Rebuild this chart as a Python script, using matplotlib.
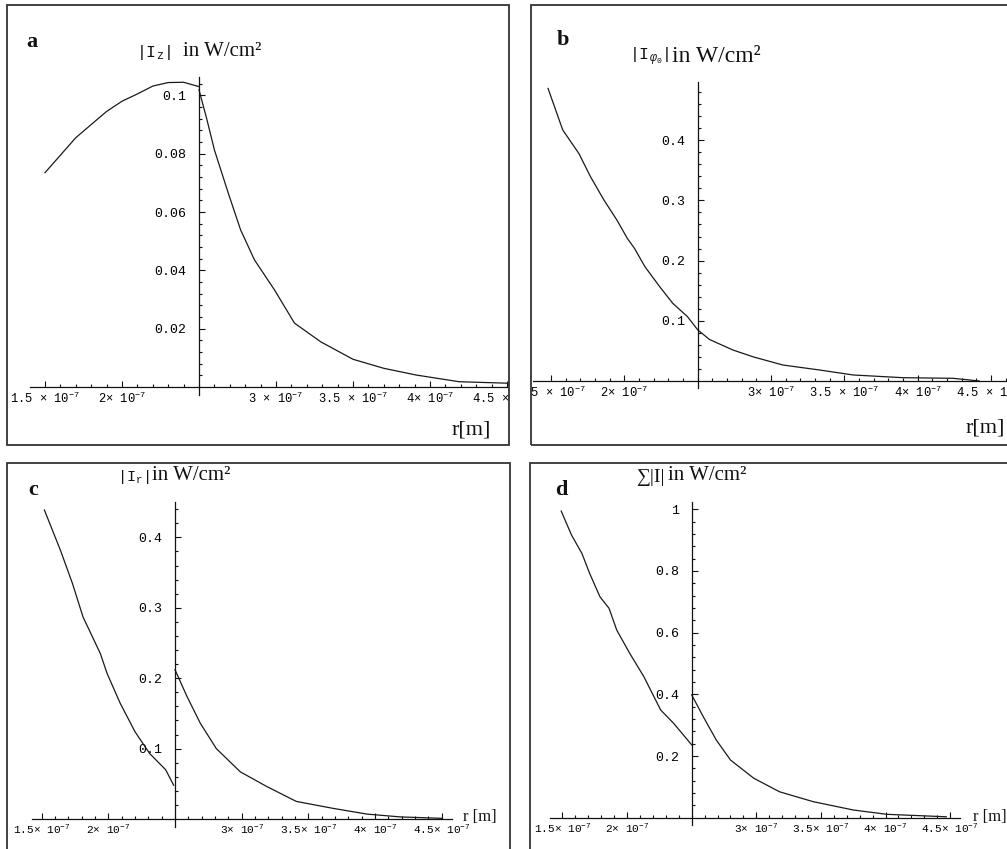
import numpy as np
import matplotlib.pyplot as plt
from matplotlib.ticker import FixedLocator, FixedFormatter
from matplotlib.patches import Rectangle

plt.rcParams['font.family'] = ['Liberation Mono', 'DejaVu Sans Mono']
plt.rcParams['mathtext.fontset'] = 'custom'
plt.rcParams['mathtext.rm'] = 'Liberation Mono'
plt.rcParams['mathtext.it'] = 'Liberation Mono:italic'

# r in units of 1e-7 m, intensities in W/cm^2
# panel a : |I_z|
ra_left = [1.5, 1.6, 1.7, 1.8, 1.9, 2.0, 2.1, 2.2, 2.3, 2.4, 2.5]
Ia_left = [0.0735, 0.0795, 0.0855, 0.090, 0.0945, 0.098, 0.1005, 0.1032, 0.1044, 0.1045, 0.1030]
ra_right = [2.5, 2.55, 2.6, 2.69, 2.77, 2.86, 2.99, 3.12, 3.29, 3.5, 3.7, 3.91, 4.19, 4.5]
Ia_right = [0.1019, 0.092, 0.0813, 0.0665, 0.0539, 0.0436, 0.0333, 0.0219, 0.0155, 0.0095, 0.0064, 0.0041, 0.0018, 0.0013]

# panel b : |I_phi0|
rb = [1.48, 1.58, 1.69, 1.77, 1.86, 1.95, 2.02, 2.07, 2.14, 2.24, 2.33, 2.43, 2.5, 2.58, 2.74, 2.88, 3.08, 3.33, 3.56, 3.9, 4.24, 4.42]
Ib = [0.486, 0.417, 0.378, 0.339, 0.301, 0.267, 0.237, 0.220, 0.190, 0.157, 0.129, 0.107, 0.085, 0.069, 0.0515, 0.040, 0.0266, 0.0183, 0.010, 0.0055, 0.0045, 0.0]

# panel c : |I_r|
rc_left = [1.52, 1.64, 1.73, 1.81, 1.94, 1.99, 2.09, 2.2, 2.31, 2.43, 2.49]
Ic_left = [0.439, 0.382, 0.335, 0.287, 0.235, 0.207, 0.164, 0.124, 0.093, 0.070, 0.048]
rc_right = [2.5, 2.59, 2.69, 2.81, 2.99, 3.19, 3.41, 3.69, 3.94, 4.19, 4.5]
Ic_right = [0.212, 0.174, 0.136, 0.100, 0.067, 0.046, 0.025, 0.015, 0.007, 0.003, 0.001]

# panel d : sum |I|
rd_left = [1.49, 1.57, 1.65, 1.71, 1.79, 1.86, 1.92, 2.02, 2.13, 2.26, 2.36, 2.5]
Id_left = [0.994, 0.916, 0.857, 0.792, 0.716, 0.679, 0.608, 0.533, 0.457, 0.349, 0.306, 0.236]
rd_right = [2.5, 2.59, 2.69, 2.8, 2.98, 3.18, 3.44, 3.75, 4.01, 4.47]
Id_right = [0.398, 0.327, 0.252, 0.187, 0.128, 0.084, 0.052, 0.025, 0.011, 0.003]

x_major = [1.5, 2.0, 3.0, 3.5, 4.0, 4.5]
xlab_a = ['1.5 × 10', '2× 10', '3 × 10', '3.5 × 10', '4× 10', '4.5 × 10']
xlab_b = ['1.5 × 10', '2× 10', '3× 10', '3.5 × 10', '4× 10', '4.5 × 10']
xlab_cd = ['1.5× 10', '2× 10', '3× 10', '3.5× 10', '4× 10', '4.5× 10']
ytick_a = [0.02, 0.04, 0.06, 0.08, 0.1]
ylab_a = ['0.02', '0.04', '0.06', '0.08', '0.1']
ytick_bc = [0.1, 0.2, 0.3, 0.4]
ylab_bc = ['0.1', '0.2', '0.3', '0.4']
ytick_d = [0.2, 0.4, 0.6, 0.8, 1.0]
ylab_d = ['0.2', '0.4', '0.6', '0.8', '1']

W, H = 1007, 849
fig = plt.figure(figsize=(W / 100, H / 100), dpi=100)
sup = r'$\mathregular{^{-7}}$'


def fx(x):
    return x / W


def fy(y):
    return 1 - y / H


def panel(box, xlim, ylim, xspan, yspan, yt, yl, xl, xsize, ystep, xmax_minor):
    x0, y0, x1, y1 = box
    ax = fig.add_axes([fx(x0), fy(y1), (x1 - x0) / W, (y1 - y0) / H])
    ax.set_xlim(xlim[0] * 1e-7, xlim[1] * 1e-7)
    ax.set_ylim(*ylim)
    ax.patch.set_alpha(0)
    for s in ['top', 'right']:
        ax.spines[s].set_visible(False)
    ax.spines['left'].set_position(('data', 2.5e-7))
    ax.spines['bottom'].set_position(('data', 0))
    ax.spines['left'].set_bounds(*yspan)
    ax.spines['bottom'].set_bounds(xspan[0] * 1e-7, xspan[1] * 1e-7)
    for s in ['left', 'bottom']:
        ax.spines[s].set_linewidth(0.9)
        ax.spines[s].set_color('#111111')

    ax.xaxis.set_major_locator(FixedLocator([v * 1e-7 for v in x_major]))
    ax.xaxis.set_major_formatter(FixedFormatter([s + sup for s in xl]))
    ax.xaxis.set_minor_locator(FixedLocator(np.arange(15, xmax_minor + 1) * 1e-8))
    ax.yaxis.set_major_locator(FixedLocator(yt))
    ax.yaxis.set_major_formatter(FixedFormatter(yl))
    ymin_t = np.arange(1, 60) * ystep
    ax.yaxis.set_minor_locator(FixedLocator(ymin_t[ymin_t <= yspan[1]]))

    ax.tick_params(which='both', direction='in', color='#111111', width=0.8)
    ax.tick_params(which='major', length=4)
    ax.tick_params(which='minor', length=2.2)
    ax.tick_params(axis='x', labelsize=xsize, pad=3)
    ax.tick_params(axis='y', labelsize=9.5, pad=9)

    for t in ax.xaxis.get_major_ticks() + ax.yaxis.get_major_ticks():
        t.label1.set_clip_on(True)
        t.label1.set_clip_box(ax.bbox)

    ax.add_patch(Rectangle((0, 0), 1, 1, transform=ax.transAxes, fill=False,
                           lw=1.3, ec='#333333', clip_on=False))
    return ax


line_kw = dict(color='#1a1a1a', lw=0.9)
serif = ['Liberation Serif', 'DejaVu Serif']
ink = '#111111'

# a
ax = panel((7, 5, 509, 445), (1.2532, 4.513), (-0.0199, 0.1310), (1.403, 4.5),
           (-0.0027, 0.1063), ytick_a, ylab_a, xlab_a, 8.7, 0.004, 45)
ax.plot(np.array(ra_left) * 1e-7, Ia_left, **line_kw)
ax.plot(np.array(ra_right) * 1e-7, Ia_right, **line_kw)

# b
ax = panel((531, 5, 1030, 445), (1.3637, 4.765), (-0.1063, 0.6246), (1.379, 4.765),
           (-0.012, 0.497), ytick_bc, ylab_bc, xlab_b, 8.7, 0.02, 47)
ax.plot(np.array(rb) * 1e-7, Ib, **line_kw)

# c
ax = panel((7, 463, 510, 860), (1.2397, 5.013), (-0.0582, 0.5057), (1.43, 4.575),
           (-0.011, 0.4507), ytick_bc, ylab_bc, xlab_cd, 8, 0.02, 45)
ax.plot(np.array(rc_left) * 1e-7, Ic_left, **line_kw)
ax.plot(np.array(rc_right) * 1e-7, Ic_right, **line_kw)

# d
ax = panel((530, 463, 1030, 860), (1.2485, 5.118), (-0.1371, 1.1498), (1.403, 4.577),
           (-0.024, 1.024), ytick_d, ylab_d, xlab_cd, 8, 0.04, 45)
ax.plot(np.array(rd_left) * 1e-7, Id_left, **line_kw)
ax.plot(np.array(rd_right) * 1e-7, Id_right, **line_kw)

# panel letters
for letter, x, y in [('a', 32, 42), ('b', 563, 40), ('c', 33, 490), ('d', 561, 490)]:
    fig.text(fx(x), fy(y), letter, family=serif, fontsize=16, fontweight='bold',
             ha='center', va='center', color=ink)

# quantity labels
fig.text(fx(171), fy(53), r'|I$_\mathregular{z}$|', fontsize=12, ha='right', va='center', color=ink)
fig.text(fx(183), fy(52), 'in W/cm²', family=serif, fontsize=15, va='center', color=ink)
fig.text(fx(669), fy(57), r'|I$_{\varphi_0}$|', fontsize=12, ha='right', va='center', color=ink)
fig.text(fx(672), fy(56), 'in W/cm²', family=serif, fontsize=17, va='center', color=ink)
fig.text(fx(149), fy(477), r'|I$_\mathregular{r}$|', fontsize=11, ha='right', va='center', color=ink)
fig.text(fx(152), fy(476), 'in W/cm²', family=serif, fontsize=15, va='center', color=ink)
fig.text(fx(665), fy(477), '∑|I|', family=serif, fontsize=14, ha='right', va='center', color=ink)
fig.text(fx(668), fy(476), 'in W/cm²', family=serif, fontsize=15, va='center', color=ink)

# r[m] labels
fig.text(fx(471), fy(430), 'r[m]', family=serif, fontsize=16, ha='center', va='center', color=ink)
fig.text(fx(1005), fy(428), 'r[m]', family=serif, fontsize=16, ha='right', va='center', color=ink)
fig.text(fx(463), fy(817), 'r [m]', family=serif, fontsize=12, ha='left', va='center', color=ink)
fig.text(fx(973), fy(817), 'r [m]', family=serif, fontsize=12, ha='left', va='center', color=ink)

fig.savefig('out.png', dpi=100)
